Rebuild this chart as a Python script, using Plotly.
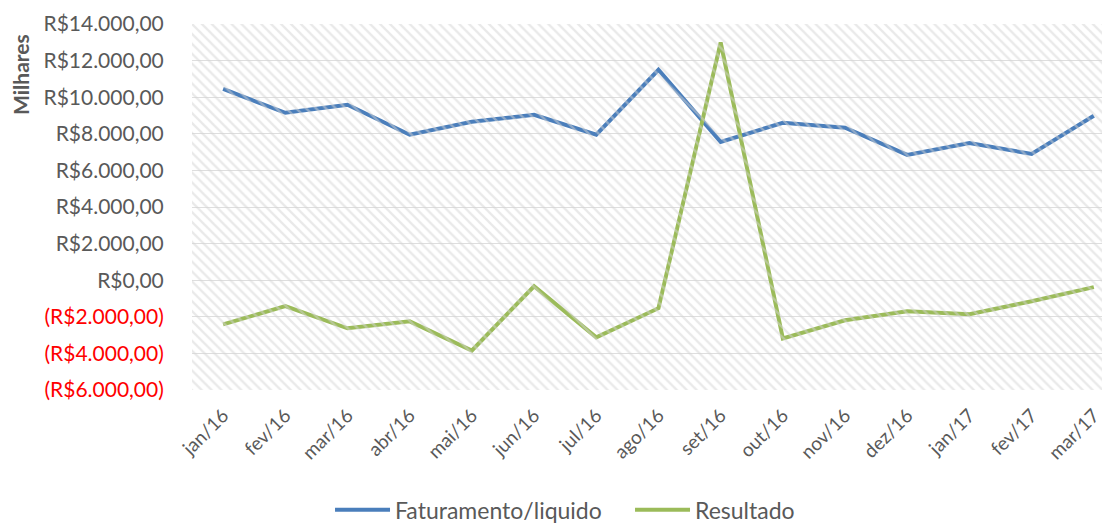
import plotly.graph_objects as go

categories = ["jan/16", "fev/16", "mar/16", "abr/16", "mai/16", "jun/16", "jul/16", "ago/16",
              "set/16", "out/16", "nov/16", "dez/16", "jan/17", "fev/17", "mar/17"]
faturamento = [10450, 9150, 9590, 7950, 8660, 9040, 7950, 11500, 7560, 8600, 8330, 6850, 7500, 6900, 8990]
resultado = [-2410, -1420, -2630, -2250, -3840, -330, -3120, -1530, 12990, -3180, -2190, -1700, -1860, -1150, -380]
series_names = ["Faturamento/liquido", "Resultado"]
series_colors = ["#4a7ebb", "#9bbb59"]
tick_vals = [-6000, -4000, -2000, 0, 2000, 4000, 6000, 8000, 10000, 12000, 14000]
tick_text = ["(R$6.000,00)", "(R$4.000,00)", "(R$2.000,00)", "R$0,00", "R$2.000,00", "R$4.000,00",
             "R$6.000,00", "R$8.000,00", "R$10.000,00", "R$12.000,00", "R$14.000,00"]

def fmt(t, v):
    if v < 0:
        return f'<span style="color:#ff0000">{t}</span>'
    return t

FONT = "Lato"
GREY = "#595959"
ymin, ymax = -6000, 14000

fig = go.Figure()
# hatched plot-area background
fig.add_trace(go.Bar(
    x=[0.5], y=[ymax - ymin], base=[ymin], width=[1], xaxis="x2", yaxis="y",
    marker=dict(color="rgba(0,0,0,0)", line=dict(width=0),
                pattern=dict(shape="\\", fgcolor="#d4d4d4", bgcolor="rgba(0,0,0,0)",
                             size=7, solidity=0.33)),
    showlegend=False, hoverinfo="skip"))

for name, vals, col in zip(series_names, [faturamento, resultado], series_colors):
    fig.add_trace(go.Scatter(x=categories, y=vals, mode="lines", name=name,
                             line=dict(color=col, width=4), showlegend=False))

# manual legend placed at the bottom
legend_line_x = [(0.1558, 0.2157), (0.4826, 0.5425)]
legend_y = -0.327
for name, col, (x0, x1) in zip(series_names, series_colors, legend_line_x):
    fig.add_shape(type="line", xref="paper", yref="paper", x0=x0, x1=x1, y0=legend_y, y1=legend_y,
                  line=dict(color=col, width=4))
    fig.add_annotation(text=name, xref="paper", yref="paper", x=x1 + 0.0035, y=legend_y,
                       xanchor="left", yanchor="middle", showarrow=False,
                       font=dict(size=23, color=GREY, family=FONT))

fig.add_annotation(text="<b>Milhares</b>", xref="paper", yref="paper", x=-0.1862, y=0.861,
                   textangle=-90, showarrow=False, font=dict(size=21, color=GREY, family=FONT),
                   xanchor="center", yanchor="middle")

fig.update_layout(
    width=1102, height=517,
    margin=dict(l=184, r=0, t=16, b=135),
    paper_bgcolor="white", plot_bgcolor="white",
    font=dict(family=FONT, color=GREY, size=18),
    showlegend=False,
    xaxis=dict(type="category", range=[-0.5, 14.26], showgrid=False, showline=False,
               tickangle=-45, tickfont=dict(size=19, color=GREY), ticks="outside",
               ticklen=6, tickcolor="rgba(0,0,0,0)", automargin=False),
    xaxis2=dict(overlaying="x", range=[0, 1], visible=False),
    yaxis=dict(range=[ymin, ymax], tickvals=tick_vals,
               ticktext=[fmt(t, v) for t, v in zip(tick_text, tick_vals)],
               showgrid=True, gridcolor="#dedede", gridwidth=1, zeroline=False,
               tickfont=dict(size=21, color=GREY), ticks="outside", ticklen=23,
               tickcolor="rgba(0,0,0,0)", automargin=False),
)

fig.write_html("out.html")
